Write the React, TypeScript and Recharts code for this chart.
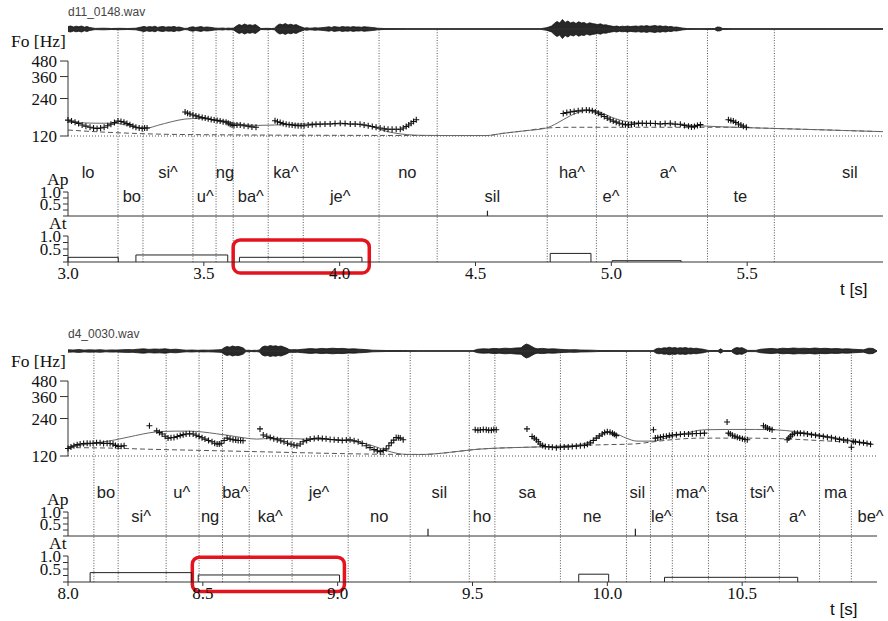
import React from 'react';
import { ComposedChart, Line, Scatter, Area, XAxis, YAxis, ReferenceLine, ReferenceArea } from 'recharts';

// ---------------- top panel (d11_0148.wav) ----------------
const topName = 'd11_0148.wav';
const topTicks = [3.0, 3.5, 4.0, 4.5, 5.0, 5.5];
const topBounds = [3.184, 3.276, 3.46, 3.545, 3.608, 3.737, 3.866, 4.145, 4.359, 4.764, 4.945, 5.059, 5.354, 5.6];
const topPhones = ['lo', 'bo', 'si^', 'u^', 'ng', 'ba^', 'ka^', 'je^', 'no', 'sil', 'ha^', 'e^', 'a^', 'te', 'sil'];
const topPhoneT = [3.074, 3.235, 3.368, 3.505, 3.578, 3.673, 3.802, 4.002, 4.249, 4.562, 4.855, 4.999, 5.209, 5.475, 5.878];
const topPhoneRow = [1, 0, 1, 0, 1, 0, 1, 0, 1, 0, 1, 0, 1, 0, 1];
const topF0 = [
  [3.0, 161], [3.013, 158], [3.026, 155], [3.039, 151], [3.052, 147], [3.066, 144], [3.081, 141], [3.094, 139], [3.107, 138], [3.12, 139], [3.133, 141], [3.146, 145], [3.158, 149], [3.171, 154], [3.184, 158], [3.195, 157], [3.206, 155], [3.217, 151], [3.228, 148], [3.239, 144], [3.25, 141], [3.262, 139], [3.273, 138], [3.282, 139], [3.291, 139],
  [3.431, 187], [3.44, 183], [3.449, 180], [3.46, 177], [3.471, 174], [3.482, 171], [3.494, 169], [3.505, 167], [3.516, 165], [3.527, 163], [3.538, 161], [3.549, 160], [3.56, 158], [3.571, 156], [3.582, 155], [3.59, 152], [3.597, 149], [3.604, 147], [3.611, 146], [3.622, 147], [3.634, 147], [3.648, 145], [3.663, 144], [3.677, 142], [3.692, 141],
  [3.762, 159], [3.771, 156], [3.781, 154], [3.792, 151], [3.803, 149], [3.814, 148], [3.825, 147], [3.836, 146], [3.847, 145], [3.858, 145], [3.869, 145], [3.884, 147], [3.899, 148], [3.913, 149], [3.928, 149], [3.946, 150], [3.965, 150], [3.983, 151], [4.002, 152], [4.02, 151], [4.039, 150], [4.057, 150], [4.075, 149], [4.09, 147], [4.105, 145], [4.12, 143], [4.134, 141], [4.149, 139], [4.164, 137], [4.178, 136], [4.193, 136], [4.208, 136], [4.223, 136], [4.234, 139], [4.245, 143], [4.254, 147], [4.263, 152], [4.272, 157], [4.282, 162],
  [4.823, 182], [4.836, 185], [4.849, 187], [4.863, 189], [4.878, 191], [4.893, 193], [4.908, 194], [4.919, 193], [4.93, 191], [4.941, 187], [4.952, 183], [4.963, 178], [4.974, 172], [4.985, 167], [4.996, 162], [5.007, 158], [5.018, 155], [5.029, 152], [5.041, 150], [5.052, 148], [5.063, 147], [5.074, 149], [5.085, 150], [5.1, 151], [5.114, 152], [5.129, 151], [5.144, 152], [5.162, 151], [5.18, 150], [5.198, 151], [5.217, 152], [5.235, 150], [5.254, 149], [5.269, 146], [5.284, 144], [5.295, 142], [5.306, 143], [5.317, 146], [5.328, 148],
  [5.431, 162], [5.44, 160], [5.449, 158], [5.458, 154], [5.468, 150], [5.477, 147], [5.486, 144], [5.497, 141],
];
const topContour = [
  [3.0, 155], [3.05, 153], [3.1, 152], [3.15, 152], [3.185, 151], [3.22, 146], [3.26, 140], [3.29, 139], [3.33, 146], [3.38, 156], [3.43, 164], [3.48, 166], [3.53, 163], [3.58, 158], [3.62, 151], [3.66, 147], [3.7, 146], [3.76, 147], [3.82, 149], [3.9, 150], [4.0, 150], [4.06, 149], [4.1, 146], [4.13, 140], [4.16, 133], [4.2, 127], [4.25, 123], [4.3, 121.5], [4.4, 121], [4.54, 121], [4.6, 126], [4.68, 132], [4.76, 139], [4.8, 152], [4.85, 175], [4.9, 191], [4.93, 193], [4.96, 186], [5.0, 170], [5.06, 156], [5.12, 152], [5.2, 150], [5.28, 147], [5.35, 144], [5.45, 141], [5.55, 139], [5.7, 136], [5.85, 133], [6.0, 130],
];
const topPhrase = [
  [3.0, 134], [3.1, 130], [3.2, 127], [3.35, 124], [3.6, 122.5], [4.0, 121.5], [4.54, 121], [4.6, 126], [4.68, 132], [4.76, 139], [4.85, 141], [5.0, 141], [5.2, 141], [5.45, 141], [5.55, 139], [5.7, 136], [5.85, 133], [6.0, 130],
];
const topAp = [[4.544, 0.22]];
const topAt = [[3.0, 3.185, 0.18], [3.25, 3.588, 0.27], [3.631, 4.082, 0.18], [4.775, 4.925, 0.33], [5.003, 5.257, 0.05]];
const topHighlight = [3.608, 4.109, -0.42, 0.85];
const topWave = [
  [3.0, 0.25], [3.01, 0.3], [3.02, 0.2], [3.03, 0.28], [3.04, 0.22], [3.05, 0.3], [3.06, 0.18], [3.07, 0.25], [3.08, 0.15], [3.1, 0.06], [3.13, 0.08], [3.16, 0.05], [3.19, 0.07], [3.22, 0.05], [3.25, 0.08],
  [3.27, 0.2], [3.28, 0.26], [3.29, 0.18], [3.3, 0.24], [3.31, 0.2], [3.32, 0.28], [3.33, 0.16], [3.34, 0.22], [3.35, 0.25], [3.36, 0.18], [3.37, 0.22], [3.38, 0.2], [3.39, 0.26], [3.4, 0.17], [3.41, 0.2], [3.42, 0.12], [3.43, 0.06], [3.44, 0.08],
  [3.45, 0.18], [3.46, 0.22], [3.47, 0.15], [3.48, 0.2], [3.49, 0.24], [3.5, 0.16], [3.51, 0.2], [3.52, 0.18], [3.53, 0.14], [3.54, 0.1], [3.55, 0.08], [3.56, 0.08], [3.57, 0.1], [3.58, 0.06], [3.59, 0.09], [3.6, 0.07], [3.61, 0.1],
  [3.62, 0.3], [3.63, 0.45], [3.64, 0.35], [3.65, 0.5], [3.66, 0.38], [3.67, 0.42], [3.68, 0.36], [3.69, 0.45], [3.7, 0.25], [3.71, 0.05], [3.73, 0.07], [3.75, 0.05], [3.76, 0.08],
  [3.77, 0.35], [3.78, 0.5], [3.79, 0.42], [3.8, 0.55], [3.81, 0.4], [3.82, 0.48], [3.83, 0.38], [3.84, 0.44], [3.85, 0.3], [3.86, 0.2], [3.87, 0.1], [3.88, 0.12], [3.89, 0.08], [3.9, 0.1], [3.91, 0.13], [3.92, 0.1], [3.93, 0.12], [3.94, 0.15],
  [3.95, 0.18], [3.96, 0.22], [3.97, 0.16], [3.98, 0.24], [3.99, 0.2], [4.0, 0.17], [4.01, 0.25], [4.02, 0.2], [4.03, 0.22], [4.04, 0.18], [4.05, 0.24], [4.06, 0.19], [4.07, 0.21], [4.08, 0.17], [4.09, 0.23], [4.1, 0.2], [4.11, 0.18], [4.12, 0.15], [4.13, 0.12], [4.14, 0.08], [4.17, 0.04], [4.25, 0.03], [4.4, 0.02], [4.6, 0.02], [4.74, 0.03],
  [4.75, 0.08], [4.76, 0.12], [4.77, 0.2], [4.78, 0.3], [4.79, 0.55], [4.8, 0.75], [4.81, 0.6], [4.82, 0.95], [4.83, 0.65], [4.84, 0.8], [4.85, 0.6], [4.86, 0.7], [4.87, 0.55], [4.88, 0.72], [4.89, 0.6], [4.9, 0.65], [4.91, 0.5], [4.92, 0.62], [4.93, 0.55], [4.94, 0.5], [4.95, 0.45], [4.96, 0.52], [4.97, 0.4], [4.98, 0.42], [4.99, 0.35], [5.0, 0.3],
  [5.01, 0.25], [5.02, 0.3], [5.03, 0.22], [5.04, 0.28], [5.05, 0.25], [5.06, 0.3], [5.07, 0.24], [5.08, 0.27], [5.09, 0.3], [5.1, 0.26], [5.11, 0.32], [5.12, 0.28], [5.13, 0.34], [5.14, 0.27], [5.15, 0.3], [5.16, 0.36], [5.17, 0.28], [5.18, 0.32], [5.19, 0.25], [5.2, 0.3], [5.21, 0.22], [5.22, 0.26], [5.23, 0.18], [5.24, 0.2], [5.25, 0.15], [5.26, 0.1], [5.28, 0.04], [5.33, 0.03], [5.37, 0.04],
  [5.38, 0.05], [5.39, 0.2], [5.4, 0.18], [5.41, 0.05], [5.45, 0.03], [5.6, 0.02], [5.8, 0.02], [6.0, 0.02],
];

// ---------------- bottom panel (d4_0030.wav) ----------------
const botName = 'd4_0030.wav';
const botTicks = [8.0, 8.5, 9.0, 9.5, 10.0, 10.5];
const botBounds = [8.096, 8.186, 8.364, 8.486, 8.573, 8.672, 8.831, 9.039, 9.269, 9.488, 9.583, 9.826, 10.071, 10.16, 10.241, 10.375, 10.512, 10.638, 10.787, 10.905];
const botPhones = ['bo', 'si^', 'u^', 'ng', 'ba^', 'ka^', 'je^', 'no', 'sil', 'ho', 'sa', 'ne', 'sil', 'le^', 'ma^', 'tsa', 'tsi^', 'a^', 'ma', 'be^'];
const botPhoneT = [8.141, 8.271, 8.422, 8.527, 8.62, 8.75, 8.931, 9.154, 9.377, 9.535, 9.703, 9.944, 10.111, 10.2, 10.311, 10.444, 10.574, 10.705, 10.846, 10.976];
const botPhoneRow = [1, 0, 1, 0, 1, 0, 1, 0, 1, 0, 1, 0, 1, 0, 1, 0, 1, 0, 1, 0];
const botF0 = [
  [8.0, 138], [8.011, 142], [8.022, 145], [8.034, 148], [8.045, 150], [8.058, 151], [8.071, 152], [8.082, 151], [8.093, 152], [8.106, 153], [8.119, 153], [8.132, 151], [8.145, 152], [8.156, 151], [8.167, 150], [8.176, 146], [8.186, 143], [8.197, 144], [8.208, 145],
  [8.302, 210],
  [8.329, 191], [8.339, 185], [8.349, 180], [8.36, 173], [8.371, 167], [8.382, 168], [8.393, 169], [8.405, 172], [8.416, 175], [8.427, 178], [8.438, 180], [8.451, 181], [8.464, 180], [8.475, 176], [8.486, 172], [8.497, 168], [8.508, 164], [8.521, 160], [8.534, 156], [8.544, 152], [8.553, 150], [8.561, 150], [8.568, 152], [8.579, 160], [8.59, 167], [8.601, 164], [8.612, 162], [8.622, 161], [8.631, 160], [8.64, 160], [8.649, 159],
  [8.712, 198],
  [8.724, 177], [8.737, 173], [8.75, 169], [8.763, 165], [8.776, 162], [8.789, 159], [8.801, 156], [8.814, 152], [8.827, 149], [8.838, 147], [8.849, 145], [8.861, 150], [8.872, 156], [8.885, 160], [8.898, 164], [8.913, 166], [8.928, 167], [8.943, 166], [8.957, 165], [8.972, 163], [8.987, 162], [9.002, 161], [9.017, 160], [9.032, 161], [9.046, 162], [9.061, 159], [9.076, 156], [9.091, 151], [9.106, 145], [9.12, 140], [9.135, 135], [9.147, 132], [9.158, 130], [9.169, 133], [9.18, 137], [9.19, 145], [9.199, 153], [9.208, 161], [9.217, 169], [9.225, 168], [9.232, 167], [9.243, 162],
  [9.51, 195], [9.52, 193], [9.529, 194], [9.54, 196], [9.551, 195], [9.56, 193], [9.57, 193], [9.579, 196], [9.588, 195],
  [9.702, 198],
  [9.721, 172], [9.729, 167], [9.737, 162], [9.744, 156], [9.751, 150], [9.76, 146], [9.77, 143], [9.783, 142], [9.796, 141], [9.811, 140], [9.826, 141], [9.84, 142], [9.855, 142], [9.87, 143], [9.885, 144], [9.9, 145], [9.915, 146], [9.926, 149], [9.937, 153], [9.948, 160], [9.959, 167], [9.97, 174], [9.981, 180], [9.99, 185], [10.0, 188], [10.01, 186], [10.019, 183], [10.026, 179], [10.033, 175],
  [10.171, 195],
  [10.178, 167], [10.187, 168], [10.197, 170], [10.208, 172], [10.219, 173], [10.23, 175], [10.241, 177], [10.256, 178], [10.271, 179], [10.286, 180], [10.301, 180], [10.315, 181], [10.33, 182], [10.345, 182], [10.36, 183],
  [10.444, 225],
  [10.449, 183], [10.456, 180], [10.464, 176], [10.473, 173], [10.482, 170], [10.491, 167], [10.501, 165], [10.51, 163], [10.519, 162],
  [10.579, 210], [10.587, 205], [10.594, 201], [10.602, 198], [10.611, 195],
  [10.667, 162], [10.673, 167], [10.679, 173], [10.686, 178], [10.694, 183], [10.705, 183], [10.716, 183], [10.729, 182], [10.742, 180], [10.757, 178], [10.772, 176], [10.786, 174], [10.801, 172], [10.816, 170], [10.831, 168], [10.846, 165], [10.861, 163], [10.876, 161], [10.891, 159], [10.905, 141], [10.912, 157], [10.92, 156], [10.935, 154], [10.95, 153], [10.963, 151], [10.976, 149],
];
const botContour = [
  [8.0, 140], [8.05, 147], [8.1, 153], [8.15, 158], [8.2, 166], [8.25, 175], [8.3, 184], [8.35, 189], [8.4, 190], [8.45, 190], [8.5, 187], [8.55, 181], [8.6, 175], [8.65, 168], [8.7, 164], [8.75, 166], [8.8, 166], [8.88, 164], [8.96, 163], [9.02, 161], [9.08, 155], [9.13, 145], [9.18, 133], [9.22, 126], [9.26, 123.5], [9.32, 123.5], [9.38, 126], [9.45, 131], [9.52, 136], [9.6, 139], [9.7, 141], [9.8, 143], [9.88, 146], [9.93, 155], [9.97, 172], [10.0, 187], [10.03, 182], [10.07, 167], [10.11, 158], [10.17, 158], [10.22, 168], [10.28, 180], [10.36, 195], [10.45, 196], [10.55, 196], [10.62, 195], [10.7, 188], [10.78, 178], [10.86, 166], [10.93, 157], [10.98, 150],
];
const botPhrase = [
  [8.0, 140], [8.15, 139], [8.3, 136], [8.5, 133], [8.7, 130], [8.9, 127], [9.1, 124.5], [9.26, 123.5], [9.32, 123.5], [9.38, 126], [9.45, 131], [9.52, 136], [9.6, 139], [9.7, 141], [9.8, 143], [9.9, 146], [10.0, 148], [10.1, 150], [10.17, 156], [10.25, 163], [10.35, 167], [10.5, 167], [10.65, 165], [10.8, 159], [10.98, 151],
];
const botAp = [[9.335, 0.3], [10.104, 0.3]];
const botAt = [[8.082, 8.459, 0.36], [8.483, 9.007, 0.27], [9.894, 10.005, 0.3], [10.212, 10.706, 0.18]];
const botHighlight = [8.461, 9.025, -0.37, 0.95];
const botWave = [
  [8.0, 0.12], [8.02, 0.1], [8.04, 0.14], [8.06, 0.09], [8.08, 0.12], [8.1, 0.1], [8.12, 0.13], [8.14, 0.08], [8.16, 0.11], [8.18, 0.1], [8.2, 0.12], [8.22, 0.14], [8.24, 0.13],
  [8.26, 0.18], [8.28, 0.22], [8.3, 0.16], [8.32, 0.2], [8.34, 0.18], [8.36, 0.22], [8.38, 0.15], [8.4, 0.18], [8.42, 0.12],
  [8.44, 0.08], [8.46, 0.1], [8.48, 0.07], [8.5, 0.09], [8.52, 0.08], [8.54, 0.1], [8.56, 0.12], [8.57, 0.15],
  [8.58, 0.35], [8.59, 0.45], [8.6, 0.38], [8.61, 0.5], [8.62, 0.42], [8.63, 0.46], [8.64, 0.4], [8.65, 0.3], [8.66, 0.06], [8.67, 0.08], [8.68, 0.05], [8.69, 0.07], [8.7, 0.06], [8.71, 0.1],
  [8.72, 0.4], [8.73, 0.5], [8.74, 0.45], [8.75, 0.55], [8.76, 0.48], [8.77, 0.52], [8.78, 0.45], [8.79, 0.5], [8.8, 0.4], [8.81, 0.3], [8.82, 0.15], [8.83, 0.12], [8.84, 0.14], [8.85, 0.12], [8.86, 0.15],
  [8.88, 0.2], [8.9, 0.24], [8.92, 0.2], [8.94, 0.26], [8.96, 0.22], [8.98, 0.28], [9.0, 0.24], [9.02, 0.26], [9.04, 0.2], [9.06, 0.22], [9.08, 0.18], [9.1, 0.15], [9.13, 0.08], [9.18, 0.05], [9.24, 0.04], [9.3, 0.02], [9.5, 0.02],
  [9.52, 0.18], [9.54, 0.22], [9.56, 0.2], [9.58, 0.26], [9.6, 0.22], [9.62, 0.28], [9.64, 0.25], [9.66, 0.3], [9.68, 0.32], [9.69, 0.55], [9.7, 0.7], [9.71, 0.6], [9.72, 0.45],
  [9.73, 0.3], [9.74, 0.22], [9.76, 0.26], [9.78, 0.2], [9.8, 0.22], [9.82, 0.18], [9.84, 0.14], [9.86, 0.12], [9.88, 0.13], [9.9, 0.1], [9.92, 0.09], [9.94, 0.08], [9.96, 0.06], [9.98, 0.04], [10.1, 0.03], [10.17, 0.03],
  [10.18, 0.2], [10.19, 0.28], [10.2, 0.25], [10.21, 0.32], [10.22, 0.3], [10.23, 0.38], [10.24, 0.3], [10.25, 0.35], [10.26, 0.28], [10.27, 0.33], [10.28, 0.3], [10.29, 0.35], [10.3, 0.27], [10.31, 0.3], [10.32, 0.25], [10.33, 0.28], [10.34, 0.22], [10.35, 0.2], [10.36, 0.15], [10.37, 0.08], [10.38, 0.04], [10.41, 0.04],
  [10.42, 0.22], [10.43, 0.05], [10.46, 0.05], [10.47, 0.25], [10.48, 0.35], [10.49, 0.3], [10.5, 0.33], [10.51, 0.2], [10.52, 0.06], [10.55, 0.06],
  [10.57, 0.18], [10.59, 0.22], [10.61, 0.26], [10.63, 0.2], [10.65, 0.28], [10.67, 0.24], [10.69, 0.3], [10.71, 0.26], [10.73, 0.28], [10.75, 0.24], [10.77, 0.3], [10.79, 0.25], [10.81, 0.27], [10.83, 0.22], [10.85, 0.25], [10.87, 0.2], [10.89, 0.22], [10.91, 0.18], [10.93, 0.15], [10.95, 0.12], [10.97, 0.28], [10.985, 0.25], [11.0, 0.02],
];

const F0_TICKS = [120, 240, 360, 480];
const AMP_TICKS = [0, 0.25, 0.5, 0.75, 1];

const SERIF = "'Liberation Serif', serif";
const SANS = "'Liberation Sans', Arial, sans-serif";

const cross = (props: any) => {
  const { cx, cy } = props;
  if (cx == null || cy == null) return <g />;
  return <path d={`M${cx - 3},${cy}H${cx + 3}M${cx},${cy - 3}V${cy + 3}`} stroke="#111" strokeWidth={1.1} fill="none" />;
};

const phoneShape = (props: any) => {
  const { cx, cy, payload } = props;
  return (
    <text x={cx} y={cy} textAnchor="middle" dominantBaseline="central" fontFamily={SANS} fontSize={16.5} fill="#222">
      {payload.label}
    </text>
  );
};

const redShape = (props: any) => {
  const { x, y, width, height } = props;
  return <rect x={x} y={y} width={width} height={height} rx={7} ry={7} fill="none" stroke="#e5131d" strokeWidth={3.5} />;
};

const ampFmt = (v: number) => (v === 1 ? '1.0' : v === 0.5 ? '0.5' : '');

function Panel(p: any) {
  const { y0, name, domain, ticks, right, bounds, phones, phoneT, phoneRow, f0, contour, phrase, ap, at, wave, box, tsX, wdy } = p;
  const f0Data = f0.map(([t, hz]: number[]) => ({ t, hz }));
  const contourData = contour.map(([t, hz]: number[]) => ({ t, hz }));
  const phraseData = phrase.map(([t, hz]: number[]) => ({ t, hz }));
  const waveData = wave.map(([t, a]: number[]) => ({ t, r: [-a, a] }));
  const labelData = phones.map((label: string, i: number) => ({ t: phoneT[i], y: phoneRow[i] ? 1.5 : 0.5, label }));
  const apData = ap.flatMap(([t, a]: number[]) => [{ t, v: 0 }, { t, v: a }, { t, v: null }]);
  const atData = at.flatMap(([t0, t1, a]: number[]) => [{ t: t0, v: 0 }, { t: t0, v: a }, { t: t1, v: a }, { t: t1, v: 0 }, { t: t1, v: null }]);
  const edgeData = [{ t: domain[0], v: 0 }, { t: domain[1], v: 0 }];
  const tickStyle = { fontFamily: SERIF, fontSize: 17, fill: '#111' };
  const abs = (top: number): React.CSSProperties => ({ position: 'absolute', left: 0, top: y0 + top });
  const txt = (left: number, top: number, size: number, family: string, color = '#111'): React.CSSProperties => ({
    position: 'absolute', left, top: y0 + top, fontSize: size, fontFamily: family, color, lineHeight: 1, whiteSpace: 'nowrap',
  });

  return (
    <>
      <div style={txt(68, 6 + wdy, 12, SANS, '#444')}>{name}</div>
      <div style={txt(11, 33, 17.5, SERIF)}>Fo [Hz]</div>
      <div style={txt(47, 171, 17.5, SERIF)}>Ap</div>
      <div style={txt(49, 215, 17.5, SERIF)}>At</div>
      <div style={txt(tsX, 281, 17, SANS)}>t [s]</div>

      {/* segment boundaries */}
      <div style={abs(29 + wdy)}>
        <ComposedChart width={888} height={233 - wdy} margin={{ top: 0, right, bottom: 0, left: 68 }} data={edgeData}>
          <XAxis type="number" dataKey="t" domain={domain} hide />
          <YAxis type="number" domain={[0, 1]} hide />
          <Line dataKey="v" stroke="none" dot={false} isAnimationActive={false} />
          {bounds.map((b: number) => (
            <ReferenceLine key={b} x={b} stroke="#555" strokeWidth={1} strokeDasharray="1 1.6" />
          ))}
        </ComposedChart>
      </div>

      {/* waveform */}
      <div style={abs(14 + wdy)}>
        <ComposedChart width={888} height={30} margin={{ top: 0, right, bottom: 0, left: 68 }} data={waveData}>
          <XAxis type="number" dataKey="t" domain={domain} hide />
          <YAxis type="number" domain={[-1.5, 1.5]} hide />
          <ReferenceLine y={0} stroke="#333" strokeWidth={1.2} />
          <Area dataKey="r" type="linear" stroke="#111" strokeWidth={0.8} fill="#111" fillOpacity={0.9} dot={false} activeDot={false} isAnimationActive={false} />
        </ComposedChart>
      </div>

      {/* F0 */}
      <div style={abs(51)}>
        <ComposedChart width={888} height={95} margin={{ top: 10, right, bottom: 10, left: 8 }}>
          <XAxis type="number" dataKey="t" domain={domain} hide />
          <YAxis type="number" scale="log" domain={[120, 480]} ticks={F0_TICKS} interval={0} width={60} tickSize={8} tickMargin={3}
            axisLine={{ stroke: '#333' }} tickLine={{ stroke: '#333' }} tick={tickStyle} />
          <ReferenceLine y={120} stroke="#555" strokeWidth={1} strokeDasharray="1 2" />
          <Line data={phraseData} dataKey="hz" type="monotone" stroke="#555" strokeWidth={1} strokeDasharray="5 3" dot={false} activeDot={false} isAnimationActive={false} />
          <Line data={contourData} dataKey="hz" type="monotone" stroke="#666" strokeWidth={1} dot={false} activeDot={false} isAnimationActive={false} />
          <Scatter data={f0Data} dataKey="hz" shape={cross} isAnimationActive={false} />
        </ComposedChart>
      </div>

      {/* phoneme labels */}
      <div style={abs(160)}>
        <ComposedChart width={888} height={48} margin={{ top: 0, right, bottom: 0, left: 68 }}>
          <XAxis type="number" dataKey="t" domain={domain} hide />
          <YAxis type="number" domain={[0, 2]} hide />
          <Scatter data={labelData} dataKey="y" shape={phoneShape} isAnimationActive={false} />
        </ComposedChart>
      </div>

      {/* Ap */}
      <div style={abs(182)}>
        <ComposedChart width={888} height={42} margin={{ top: 10, right, bottom: 0, left: 8 }} data={apData}>
          <XAxis type="number" dataKey="t" domain={domain} ticks={ticks} interval={0} tick={false} tickSize={3} height={8}
            axisLine={{ stroke: '#333' }} tickLine={{ stroke: '#333' }} />
          <YAxis type="number" domain={[0, 1]} ticks={AMP_TICKS} interval={0} tickFormatter={ampFmt} width={60} tickSize={5} tickMargin={2}
            axisLine={{ stroke: '#333' }} tickLine={{ stroke: '#333' }} tick={tickStyle} />
          <Line dataKey="v" type="linear" stroke="#222" strokeWidth={1.2} dot={false} activeDot={false} connectNulls={false} isAnimationActive={false} />
        </ComposedChart>
      </div>

      {/* At */}
      <div style={abs(226)}>
        <ComposedChart width={888} height={66} margin={{ top: 10, right, bottom: 0, left: 8 }} data={atData}>
          <XAxis type="number" dataKey="t" domain={domain} ticks={ticks} interval={0} tickFormatter={(v: number) => v.toFixed(1)} tickSize={4} tickMargin={1} height={30}
            axisLine={{ stroke: '#333' }} tickLine={{ stroke: '#333' }} tick={tickStyle} />
          <YAxis type="number" domain={[0, 1]} ticks={AMP_TICKS} interval={0} tickFormatter={ampFmt} width={60} tickSize={5} tickMargin={2}
            axisLine={{ stroke: '#333' }} tickLine={{ stroke: '#333' }} tick={tickStyle} />
          <Line dataKey="v" type="linear" stroke="#222" strokeWidth={1} dot={false} activeDot={false} connectNulls={false} isAnimationActive={false} />
          <ReferenceArea x1={box[0]} x2={box[1]} y1={box[2]} y2={box[3]} ifOverflow="visible" shape={redShape} />
        </ComposedChart>
      </div>
    </>
  );
}

export default function App() {
  return (
    <div style={{ position: 'absolute', left: 0, top: 0, width: 888, height: 621, background: '#fff', overflow: 'hidden' }}>
      <Panel y0={0} wdy={0} name={topName} domain={[3, 6]} ticks={topTicks} right={5} bounds={topBounds} phones={topPhones}
        phoneT={topPhoneT} phoneRow={topPhoneRow} f0={topF0} contour={topContour} phrase={topPhrase} ap={topAp} at={topAt}
        wave={topWave} box={topHighlight} tsX={840} />
      <Panel y0={320} wdy={2} name={botName} domain={[8, 11]} ticks={botTicks} right={11} bounds={botBounds} phones={botPhones}
        phoneT={botPhoneT} phoneRow={botPhoneRow} f0={botF0} contour={botContour} phrase={botPhrase} ap={botAp} at={botAt}
        wave={botWave} box={botHighlight} tsX={830} />
    </div>
  );
}
